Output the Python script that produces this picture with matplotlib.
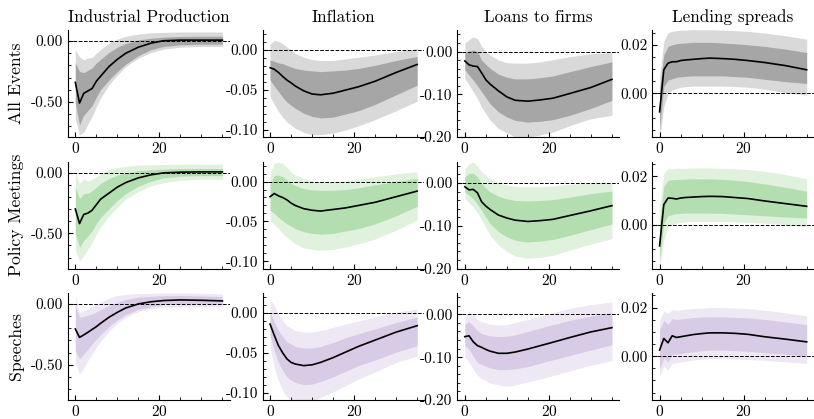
import matplotlib
matplotlib.use("Agg")
import matplotlib.pyplot as plt
from matplotlib.ticker import MultipleLocator, AutoMinorLocator, FormatStrFormatter

plt.rcParams['font.family'] = 'serif'
plt.rcParams['font.serif'] = ['cmr10', 'DejaVu Serif']
plt.rcParams['mathtext.fontset'] = 'cm'
plt.rcParams['axes.unicode_minus'] = False
plt.rcParams['axes.formatter.use_mathtext'] = True
plt.rcParams['font.size'] = 11

horizons = [0, 1, 2, 3, 4, 5, 6, 8, 10, 12, 15, 18, 21, 25, 30, 35]

variables = ['Industrial Production', 'Inflation', 'Loans to firms', 'Lending spreads']
events = ['All Events', 'Policy Meetings', 'Speeches']

# ---- All Events ----
ip_all_med = [-0.34, -0.51, -0.43, -0.41, -0.39, -0.33, -0.29, -0.21, -0.15, -0.10, -0.05, -0.017, 0.003, 0.008, 0.008, 0.008]
ip_all_hi90 = [-0.07, -0.13, -0.155, -0.14, -0.135, -0.10, -0.07, -0.017, 0.017, 0.04, 0.058, 0.068, 0.072, 0.075, 0.075, 0.075]
ip_all_lo90 = [-0.64, -0.77, -0.75, -0.68, -0.62, -0.54, -0.47, -0.36, -0.28, -0.21, -0.14, -0.094, -0.066, -0.05, -0.044, -0.044]
ip_all_hi68 = [-0.18, -0.25, -0.26, -0.24, -0.22, -0.18, -0.15, -0.094, -0.05, -0.02, 0.01, 0.024, 0.032, 0.038, 0.04, 0.04]
ip_all_lo68 = [-0.51, -0.69, -0.61, -0.57, -0.53, -0.46, -0.40, -0.32, -0.25, -0.19, -0.12, -0.07, -0.044, -0.03, -0.025, -0.025]

inf_all_med = [-0.022, -0.024, -0.028, -0.033, -0.0375, -0.041, -0.045, -0.051, -0.055, -0.056, -0.054, -0.050, -0.046, -0.039, -0.028, -0.018]
inf_all_hi90 = [0.008, 0.012, 0.011, 0.008, 0.004, 0.0, -0.004, -0.009, -0.012, -0.013, -0.013, -0.011, -0.009, -0.006, -0.002, 0.002]
inf_all_lo90 = [-0.058, -0.068, -0.077, -0.084, -0.09, -0.094, -0.098, -0.103, -0.106, -0.106, -0.104, -0.100, -0.095, -0.087, -0.076, -0.064]
inf_all_hi68 = [-0.0125, -0.014, -0.016, -0.017, -0.019, -0.021, -0.023, -0.025, -0.026, -0.027, -0.026, -0.025, -0.023, -0.019, -0.013, -0.008]
inf_all_lo68 = [-0.0375, -0.045, -0.052, -0.059, -0.065, -0.069, -0.073, -0.079, -0.083, -0.085, -0.084, -0.080, -0.076, -0.068, -0.056, -0.044]

loan_all_med = [-0.022, -0.031, -0.034, -0.035, -0.05, -0.066, -0.076, -0.092, -0.106, -0.114, -0.116, -0.113, -0.109, -0.098, -0.084, -0.065]
loan_all_hi90 = [0.02, 0.028, 0.034, 0.03, 0.012, 0.0, -0.008, -0.02, -0.026, -0.027, -0.027, -0.024, -0.019, -0.012, -0.005, -0.002]
loan_all_lo90 = [-0.063, -0.078, -0.094, -0.11, -0.13, -0.145, -0.16, -0.18, -0.19, -0.2, -0.2, -0.195, -0.188, -0.173, -0.157, -0.149]
loan_all_hi68 = [-0.004, 0.001, 0.004, 0.0, -0.02, -0.03, -0.039, -0.053, -0.06, -0.064, -0.064, -0.061, -0.057, -0.047, -0.035, -0.024]
loan_all_lo68 = [-0.043, -0.055, -0.067, -0.08, -0.094, -0.108, -0.122, -0.141, -0.153, -0.161, -0.165, -0.163, -0.159, -0.149, -0.133, -0.114]

spr_all_med = [-0.0076, 0.0097, 0.0124, 0.013, 0.013, 0.0135, 0.0137, 0.014, 0.0143, 0.0145, 0.0143, 0.014, 0.0135, 0.0127, 0.0114, 0.0097]
spr_all_hi90 = [0.0069, 0.0214, 0.025, 0.0255, 0.0258, 0.026, 0.026, 0.0262, 0.0262, 0.0262, 0.026, 0.0258, 0.0255, 0.0248, 0.0237, 0.0223]
spr_all_lo90 = [-0.019, -0.0055, 0.0, 0.0014, 0.002, 0.0025, 0.0027, 0.003, 0.003, 0.003, 0.003, 0.0028, 0.0025, 0.0017, 0.0003, -0.0007]
spr_all_hi68 = [0.0014, 0.0159, 0.0193, 0.02, 0.0204, 0.0206, 0.0207, 0.021, 0.021, 0.021, 0.0207, 0.0204, 0.02, 0.0193, 0.0182, 0.0168]
spr_all_lo68 = [-0.015, 0.0028, 0.0055, 0.006, 0.0066, 0.0068, 0.007, 0.0072, 0.0072, 0.0072, 0.0072, 0.0069, 0.0066, 0.0058, 0.0048, 0.0041]

# ---- Policy Meetings ----
ip_pm_med = [-0.30, -0.42, -0.345, -0.334, -0.31, -0.265, -0.22, -0.17, -0.12, -0.083, -0.044, -0.019, -0.003, 0.003, 0.005, 0.005]
ip_pm_hi90 = [-0.008, -0.09, -0.05, -0.07, -0.058, -0.036, -0.008, 0.025, 0.041, 0.052, 0.06, 0.064, 0.066, 0.068, 0.069, 0.069]
ip_pm_lo90 = [-0.64, -0.73, -0.685, -0.63, -0.575, -0.505, -0.45, -0.36, -0.285, -0.22, -0.155, -0.11, -0.083, -0.064, -0.055, -0.055]
ip_pm_hi68 = [-0.12, -0.215, -0.174, -0.17, -0.15, -0.12, -0.09, -0.05, -0.022, -0.003, 0.014, 0.022, 0.028, 0.033, 0.033, 0.033]
ip_pm_lo68 = [-0.505, -0.615, -0.56, -0.52, -0.48, -0.42, -0.37, -0.30, -0.23, -0.174, -0.113, -0.072, -0.044, -0.03, -0.025, -0.025]

inf_pm_med = [-0.019, -0.015, -0.018, -0.02, -0.023, -0.027, -0.03, -0.034, -0.036, -0.037, -0.035, -0.033, -0.030, -0.026, -0.019, -0.012]
inf_pm_hi90 = [0.0096, 0.023, 0.024, 0.023, 0.018, 0.012, 0.008, 0.004, 0.001, 0.0, 0.0, 0.001, 0.003, 0.006, 0.0096, 0.012]
inf_pm_lo90 = [-0.049, -0.054, -0.059, -0.065, -0.07, -0.074, -0.078, -0.083, -0.085, -0.086, -0.085, -0.082, -0.078, -0.072, -0.061, -0.048]
inf_pm_hi68 = [-0.003, 0.0075, 0.008, 0.006, 0.002, -0.002, -0.005, -0.009, -0.0104, -0.011, -0.011, -0.010, -0.008, -0.004, 0.0, 0.004]
inf_pm_lo68 = [-0.036, -0.04, -0.045, -0.049, -0.053, -0.056, -0.059, -0.063, -0.065, -0.066, -0.065, -0.062, -0.059, -0.053, -0.043, -0.031]

loan_pm_med = [-0.009, -0.016, -0.015, -0.023, -0.044, -0.054, -0.062, -0.075, -0.082, -0.087, -0.09, -0.088, -0.085, -0.076, -0.065, -0.053]
loan_pm_hi90 = [0.033, 0.045, 0.049, 0.039, 0.026, 0.018, 0.01, 0.0, -0.005, -0.008, -0.009, -0.009, -0.007, -0.003, 0.0, 0.002]
loan_pm_lo90 = [-0.037, -0.046, -0.056, -0.07, -0.086, -0.105, -0.122, -0.145, -0.16, -0.171, -0.176, -0.174, -0.169, -0.157, -0.143, -0.13]
loan_pm_hi68 = [0.014, 0.022, 0.023, 0.014, -0.002, -0.012, -0.021, -0.031, -0.037, -0.041, -0.042, -0.041, -0.039, -0.033, -0.025, -0.019]
loan_pm_lo68 = [-0.021, -0.029, -0.037, -0.05, -0.064, -0.08, -0.095, -0.114, -0.126, -0.134, -0.138, -0.136, -0.132, -0.122, -0.109, -0.096]

spr_pm_med = [-0.0087, 0.0083, 0.011, 0.0109, 0.0106, 0.011, 0.0112, 0.0114, 0.0116, 0.0117, 0.0116, 0.0112, 0.0108, 0.0098, 0.0087, 0.0076]
spr_pm_hi90 = [0.0076, 0.0214, 0.023, 0.0231, 0.0232, 0.0233, 0.0233, 0.0234, 0.0234, 0.0234, 0.0232, 0.023, 0.0227, 0.022, 0.0207, 0.0189]
spr_pm_lo90 = [-0.018, -0.0062, -0.0007, 0.0, 0.0007, 0.001, 0.0012, 0.0014, 0.0014, 0.0014, 0.0014, 0.0012, 0.001, 0.0007, 0.0, -0.001]
spr_pm_hi68 = [0.0007, 0.0159, 0.0182, 0.0185, 0.0186, 0.0187, 0.0188, 0.0189, 0.0189, 0.0189, 0.0187, 0.0183, 0.0178, 0.0168, 0.0154, 0.0138]
spr_pm_lo68 = [-0.0152, 0.0007, 0.0037, 0.0042, 0.0046, 0.0047, 0.0048, 0.0048, 0.0048, 0.0048, 0.0047, 0.0044, 0.0041, 0.0037, 0.0032, 0.0028]

# ---- Speeches ----
ip_sp_med = [-0.206, -0.275, -0.255, -0.233, -0.21, -0.187, -0.16, -0.11, -0.069, -0.033, 0.0, 0.018, 0.028, 0.033, 0.03, 0.025]
ip_sp_hi90 = [0.069, -0.069, -0.055, -0.04, -0.027, -0.006, 0.014, 0.049, 0.069, 0.078, 0.085, 0.088, 0.09, 0.09, 0.088, 0.082]
ip_sp_lo90 = [-0.48, -0.577, -0.527, -0.467, -0.412, -0.357, -0.308, -0.225, -0.159, -0.11, -0.062, -0.038, -0.027, -0.022, -0.022, -0.022]
ip_sp_hi68 = [-0.014, -0.11, -0.104, -0.093, -0.082, -0.066, -0.049, -0.014, 0.014, 0.036, 0.055, 0.063, 0.068, 0.069, 0.066, 0.06]
ip_sp_lo68 = [-0.385, -0.453, -0.412, -0.371, -0.33, -0.29, -0.253, -0.187, -0.132, -0.088, -0.045, -0.022, -0.006, 0.0, 0.0, -0.005]

inf_sp_med = [-0.014, -0.028, -0.041, -0.05, -0.0575, -0.062, -0.064, -0.066, -0.065, -0.062, -0.056, -0.049, -0.042, -0.034, -0.024, -0.016]
inf_sp_hi90 = [0.0175, 0.009, -0.001, -0.0096, -0.016, -0.019, -0.022, -0.024, -0.024, -0.022, -0.018, -0.014, -0.010, -0.005, 0.001, 0.005]
inf_sp_lo90 = [-0.043, -0.068, -0.085, -0.097, -0.105, -0.109, -0.112, -0.113, -0.111, -0.106, -0.099, -0.091, -0.083, -0.074, -0.062, -0.054]
inf_sp_hi68 = [0.001, -0.012, -0.022, -0.03, -0.036, -0.039, -0.042, -0.044, -0.044, -0.042, -0.037, -0.031, -0.026, -0.02, -0.012, -0.005]
inf_sp_lo68 = [-0.028, -0.047, -0.062, -0.072, -0.08, -0.084, -0.087, -0.09, -0.089, -0.086, -0.08, -0.073, -0.066, -0.059, -0.049, -0.041]

loan_sp_med = [-0.052, -0.05, -0.064, -0.073, -0.077, -0.082, -0.086, -0.091, -0.091, -0.088, -0.081, -0.073, -0.065, -0.054, -0.041, -0.031]
loan_sp_hi90 = [-0.009, 0.006, 0.0, -0.012, -0.017, -0.02, -0.023, -0.025, -0.024, -0.019, -0.012, -0.004, 0.004, 0.014, 0.023, 0.029]
loan_sp_lo90 = [-0.1, -0.112, -0.129, -0.142, -0.15, -0.155, -0.16, -0.165, -0.168, -0.165, -0.158, -0.151, -0.143, -0.132, -0.119, -0.108]
loan_sp_hi68 = [-0.023, -0.017, -0.027, -0.038, -0.045, -0.048, -0.05, -0.052, -0.051, -0.048, -0.04, -0.032, -0.024, -0.014, -0.004, 0.004]
loan_sp_lo68 = [-0.073, -0.081, -0.098, -0.112, -0.117, -0.121, -0.125, -0.129, -0.129, -0.127, -0.122, -0.114, -0.106, -0.096, -0.083, -0.071]

spr_sp_med = [0.0025, 0.0073, 0.0055, 0.0084, 0.0077, 0.008, 0.0083, 0.0089, 0.0093, 0.0096, 0.0096, 0.0094, 0.009, 0.008, 0.007, 0.0059]
spr_sp_hi90 = [0.0148, 0.0186, 0.0175, 0.0192, 0.0189, 0.0191, 0.0193, 0.0196, 0.0198, 0.02, 0.02, 0.0198, 0.0196, 0.0189, 0.0178, 0.0166]
spr_sp_lo90 = [-0.0085, -0.0041, -0.0058, -0.003, -0.0027, -0.0024, -0.0021, -0.0016, -0.0013, -0.001, -0.001, -0.0012, -0.0014, -0.0017, -0.0023, -0.003]
spr_sp_hi68 = [0.0107, 0.0148, 0.013, 0.0155, 0.0151, 0.0153, 0.0155, 0.0159, 0.0161, 0.0162, 0.0162, 0.016, 0.0158, 0.0151, 0.0141, 0.013]
spr_sp_lo68 = [-0.0055, -0.0005, -0.0023, 0.0008, 0.0008, 0.0011, 0.0014, 0.0018, 0.0022, 0.0025, 0.0025, 0.0023, 0.002, 0.0014, 0.0008, 0.0]

panels = [
    [(ip_all_med, ip_all_lo68, ip_all_hi68, ip_all_lo90, ip_all_hi90),
     (inf_all_med, inf_all_lo68, inf_all_hi68, inf_all_lo90, inf_all_hi90),
     (loan_all_med, loan_all_lo68, loan_all_hi68, loan_all_lo90, loan_all_hi90),
     (spr_all_med, spr_all_lo68, spr_all_hi68, spr_all_lo90, spr_all_hi90)],
    [(ip_pm_med, ip_pm_lo68, ip_pm_hi68, ip_pm_lo90, ip_pm_hi90),
     (inf_pm_med, inf_pm_lo68, inf_pm_hi68, inf_pm_lo90, inf_pm_hi90),
     (loan_pm_med, loan_pm_lo68, loan_pm_hi68, loan_pm_lo90, loan_pm_hi90),
     (spr_pm_med, spr_pm_lo68, spr_pm_hi68, spr_pm_lo90, spr_pm_hi90)],
    [(ip_sp_med, ip_sp_lo68, ip_sp_hi68, ip_sp_lo90, ip_sp_hi90),
     (inf_sp_med, inf_sp_lo68, inf_sp_hi68, inf_sp_lo90, inf_sp_hi90),
     (loan_sp_med, loan_sp_lo68, loan_sp_hi68, loan_sp_lo90, loan_sp_hi90),
     (spr_sp_med, spr_sp_lo68, spr_sp_hi68, spr_sp_lo90, spr_sp_hi90)],
]

# (outer band, inner band) per event
band_colors = [('#d9d9d9', '#a6a6a6'), ('#e0f1dd', '#b3dfb0'), ('#ede8f4', '#d8cbe5')]
ylims = [(-0.79, 0.09), (-0.109, 0.025), (-0.20, 0.05), (-0.018, 0.026)]
ysteps = [0.5, 0.05, 0.1, 0.02]

fig, axes = plt.subplots(3, 4, figsize=(8.14, 4.19), dpi=100, sharey='col')
fig.subplots_adjust(left=0.0835, right=1.0, top=0.928, bottom=0.0455, wspace=0.204, hspace=0.229)

for i in range(3):
    for j in range(4):
        ax = axes[i, j]
        med, lo68, hi68, lo90, hi90 = panels[i][j]
        outer, inner = band_colors[i]
        ax.fill_between(horizons, lo90, hi90, color=outer, lw=0)
        ax.fill_between(horizons, lo68, hi68, color=inner, lw=0)
        ax.axhline(0, color='black', ls='--', lw=0.7, zorder=3)
        ax.plot(horizons, med, color='black', lw=1.2, zorder=4)

        ax.set_xlim(-1.75, 36.75)
        ax.set_ylim(*ylims[j])
        ax.xaxis.set_major_locator(MultipleLocator(20))
        ax.xaxis.set_minor_locator(MultipleLocator(5))
        ax.yaxis.set_major_locator(MultipleLocator(ysteps[j]))
        ax.yaxis.set_minor_locator(AutoMinorLocator())
        ax.yaxis.set_major_formatter(FormatStrFormatter('%.2f'))
        ax.tick_params(axis='y', labelleft=True)
        ax.tick_params(which='both', direction='in', labelsize=11)
        ax.tick_params(axis='x', pad=3)
        ax.tick_params(which='major', length=3.5)
        ax.tick_params(which='minor', length=2)
        ax.spines['top'].set_visible(False)
        ax.spines['right'].set_visible(False)

        if i == 0:
            ax.set_title(variables[j], fontsize=12.3)
        if j == 0:
            ax.set_ylabel(events[i], fontsize=12.7, labelpad=5)

plt.savefig('out.png', dpi=100)
